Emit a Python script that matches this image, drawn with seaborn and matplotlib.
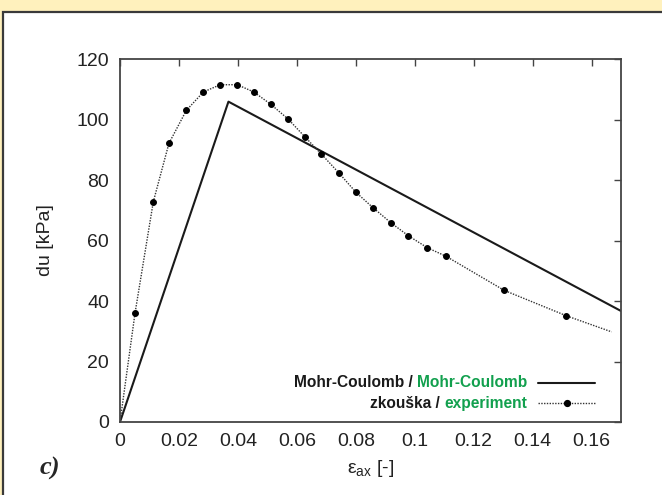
import numpy as np
import matplotlib
matplotlib.use('Agg')
import matplotlib.pyplot as plt
import seaborn as sns
from matplotlib.patches import Rectangle

# Mohr-Coulomb model (piecewise linear)
eps_mc = [0.0, 0.0368, 0.17]
du_mc = [0.0, 105.9, 36.7]

# Laboratory test (zkouška / experiment)
eps_exp = [0.0, 0.0051, 0.0113, 0.0166, 0.0225, 0.0283, 0.0340, 0.0398, 0.0454,
           0.0512, 0.0571, 0.0627, 0.0683, 0.0743, 0.0801, 0.0859, 0.0920, 0.0978,
           0.1043, 0.1106, 0.1304, 0.1515, 0.1668]
du_exp = [0.0, 36.0, 72.8, 92.1, 103.0, 109.1, 111.5, 111.5, 109.1,
          105.0, 100.1, 94.3, 88.6, 82.3, 75.9, 70.8, 65.8, 61.6,
          57.6, 54.8, 43.5, 35.1, 29.8]

x_ticks = [0, 0.02, 0.04, 0.06, 0.08, 0.1, 0.12, 0.14, 0.16]
x_tick_labels = ['0', '0.02', '0.04', '0.06', '0.08', '0.1', '0.12', '0.14', '0.16']
y_ticks = [0, 20, 40, 60, 80, 100, 120]

GREEN = '#12a04e'
W, H = 662, 495

sns.set_style('white')
plt.rcParams['font.family'] = ['Liberation Sans', 'DejaVu Sans']

fig = plt.figure(figsize=(W / 100, H / 100), dpi=100)
fig.patch.set_facecolor('#fff1bd')
# White framed panel on the yellow page
fig.add_artist(Rectangle((2.5 / W, -0.05), 1.1, (H - 11.5) / H + 0.05,
                         transform=fig.transFigure, facecolor='white',
                         edgecolor='#3a3a3a', linewidth=1.6, zorder=0))

ax = fig.add_axes([120 / W, (H - 422) / H, 501 / W, 363 / H])
ax.set_facecolor('white')

sns.lineplot(x=eps_mc, y=du_mc, ax=ax, color='#1a1a1a', linewidth=1.5, sort=False)
n = len(eps_exp)
sns.lineplot(x=eps_exp, y=du_exp, ax=ax, color='#333333', linewidth=1.0,
             linestyle=(0, (1, 1.0)), marker='o', markersize=4.2,
             markerfacecolor='black', markeredgecolor='black',
             markevery=list(range(1, n - 1)), sort=False)

ax.set_xlim(0, 0.17)
ax.set_ylim(0, 120)
ax.set_xticks(x_ticks)
ax.set_xticklabels(x_tick_labels)
ax.set_yticks(y_ticks)
ax.tick_params(direction='in', length=5, width=1.0, color='#444444',
               top=True, right=True, labelsize=14, pad=8, labelcolor='#222222')
for s in ax.spines.values():
    s.set_color('#444444')
    s.set_linewidth(1.3)

ax.set_ylabel('du [kPa]', fontsize=14, color='#222222', labelpad=16)
ax.set_xlabel('ε$_{\\mathregular{ax}}$ [-]', fontsize=14, color='#222222', labelpad=6)

fig.text(50 / W, 1 - 468 / H, 'c)', fontsize=19, fontweight='bold', style='italic',
         family='Liberation Serif', ha='center', va='center')

# Legend drawn by hand: two-coloured, right-aligned labels
rows = [('Mohr-Coulomb / ', 'Mohr-Coulomb', 0.096, 0.107, '-'),
        ('zkouška / ', 'experiment', 0.039, 0.052, ':')]
txt_right = 0.812
fig.canvas.draw()
renderer = fig.canvas.get_renderer()
for black, green, ybase, yline, ls in rows:
    tg = ax.text(txt_right, ybase, green, transform=ax.transAxes, ha='right',
                 va='baseline', fontsize=11.2, fontweight='bold', color=GREEN)
    bb = tg.get_window_extent(renderer)
    x0 = ax.transAxes.inverted().transform((bb.x0, bb.y0))[0]
    ax.text(x0, ybase, black, transform=ax.transAxes, ha='right',
            va='baseline', fontsize=11.2, fontweight='bold', color='#1a1a1a')
    if ls == '-':
        ax.plot([0.834, 0.948], [yline, yline], transform=ax.transAxes,
                color='#1a1a1a', linewidth=1.5)
    else:
        ax.plot([0.834, 0.948], [yline, yline], transform=ax.transAxes,
                color='#333333', linewidth=1.0, linestyle=(0, (1, 1.0)))
        ax.plot([0.892], [yline], transform=ax.transAxes, marker='o',
                markersize=4.2, color='black')

fig.savefig('out.png', dpi=100, facecolor=fig.get_facecolor())
